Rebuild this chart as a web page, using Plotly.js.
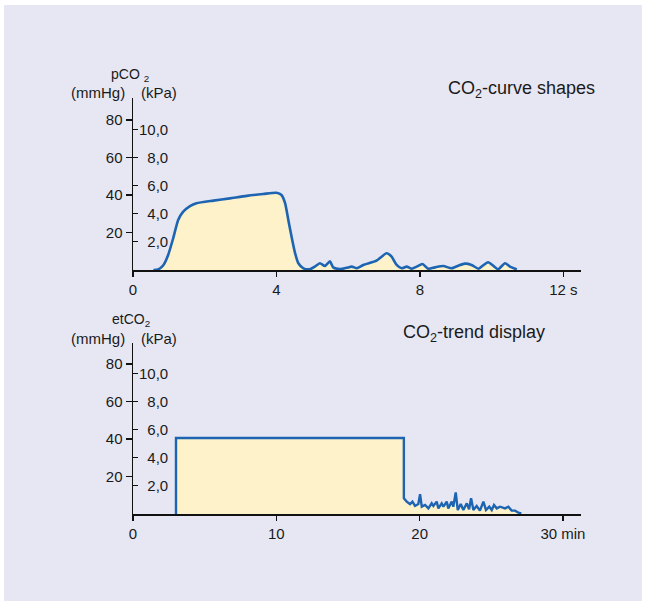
<!DOCTYPE html>
<html>
<head>
<meta charset="utf-8">
<script src="https://cdn.plot.ly/plotly-3.0.1.min.js"></script>
<style>html,body{margin:0;padding:0;background:#fff;}#chart{width:645px;height:604px;}</style>
</head>
<body>
<div id="chart"></div>
<script>
// Top panel: CO2 curve shape (time in s, pCO2 in mmHg)
const curveTime = [0.57,0.70,0.85,0.98,1.12,1.26,1.40,1.59,1.77,2.24,2.70,3.17,3.63,4.00,4.14,4.24,4.33,4.42,4.52,4.61,4.75,4.93,5.07,5.21,5.35,5.49,5.58,5.77,5.96,6.10,6.24,6.42,6.79,6.93,7.07,7.21,7.35,7.49,7.63,7.77,7.91,8.07,8.23,8.42,8.65,8.88,9.07,9.25,9.44,9.63,9.78,9.90,10.04,10.18,10.37,10.51,10.70];
const curvePCO2 = [0,0.3,2.7,8.0,16.9,26.7,31.1,34.1,35.6,37.0,38.2,39.5,40.5,41.2,40.0,35.6,26.7,17.8,8.9,3.6,0.9,0.4,1.8,3.6,2.2,4.6,1.4,0.5,1.2,1.8,0.9,2.7,5.0,7.1,8.9,7.1,2.7,0.9,1.8,0.7,1.8,3.2,0.7,1.4,2.1,0.9,2.3,3.4,2.7,0.7,2.7,4.1,2.3,0.4,3.6,1.8,0.3];

// Bottom panel: etCO2 trend (time in min, etCO2 in mmHg)
const trendTime = [3.0,3.0,18.9,18.9,19.1,19.33,19.5,19.68,19.91,20.03,20.15,20.38,20.61,20.84,20.96,21.19,21.31,21.54,21.66,21.89,22.0,22.24,22.35,22.52,22.66,22.87,23.05,23.29,23.45,23.59,23.75,23.98,24.21,24.45,24.63,24.86,25.03,25.19,25.38,25.61,25.96,26.19,26.42,26.66,26.89,27.1];
const trendCO2 = [0,40.5,40.5,8.4,6.6,5.3,6.6,4.3,5.3,10.6,3.9,4.8,3.0,5.7,4.3,6.6,3.0,5.7,3.9,6.6,3.0,6.6,3.9,11.5,2.1,5.3,2.1,5.7,2.5,8.4,2.1,4.3,1.8,6.6,2.1,3.9,2.1,4.8,3.0,3.9,3.0,3.9,1.8,1.8,0.7,0.3];

// Axis ticks
const mmHgTicks = [20,40,60,80];
const kPaTickVals = [15,30,45,60,75];
const kPaTickText = ['\u20072,0','\u20074,0','\u20076,0','\u20078,0','10,0'];
const secTickVals = [0,4,8,12];
const secTickText = ['0','4','8','12 s'];
const minTickVals = [0,10,20,30];
const minTickText = ['0','10','20','30 min'];

const lineBlue = '#1d64b2';
const cream = '#fdf2c9';
const lavender = '#e7e7f3';
const font = 'Liberation Sans, Arial, Helvetica, sans-serif';

const traces = [
  {x: curveTime, y: curvePCO2, xaxis:'x', yaxis:'y', type:'scatter', mode:'lines',
   line:{color:lineBlue, width:2.6, shape:'spline', smoothing:0.6}, fill:'tozeroy', fillcolor:cream, hoverinfo:'skip'},
  {x: trendTime, y: trendCO2, xaxis:'x2', yaxis:'y2', type:'scatter', mode:'lines',
   line:{color:lineBlue, width:2.4}, fill:'tozeroy', fillcolor:cream, hoverinfo:'skip'},
  // invisible companions so the kPa scales (overlaid axes) get drawn
  {x: curveTime, y: curvePCO2, xaxis:'x3', yaxis:'y3', type:'scatter', mode:'lines',
   line:{width:0, color:'rgba(0,0,0,0)'}, opacity:0, hoverinfo:'skip'},
  {x: trendTime, y: trendCO2, xaxis:'x4', yaxis:'y4', type:'scatter', mode:'lines',
   line:{width:0, color:'rgba(0,0,0,0)'}, opacity:0, hoverinfo:'skip'}
];

const W = 645, H = 604;
const px = v => v / W;
const py = v => (H - v) / H;

const tickFont = {family: font, size: 15, color: '#1a1a1a'};
const xCommon = {showline:true, linecolor:'#111', linewidth:1.5, showgrid:false, zeroline:false,
  ticks:'outside', ticklen:5, tickwidth:1.2, tickcolor:'#111', tickfont:tickFont, fixedrange:true};
const yCommon = {showline:true, linecolor:'#111', linewidth:1.5, showgrid:false, zeroline:false,
  ticks:'outside', ticklen:6, tickwidth:1.2, tickcolor:'#111', tickfont:tickFont, fixedrange:true,
  tickvals: mmHgTicks, ticktext: mmHgTicks.map(String)};
const kPaCommon = {showline:false, showgrid:false, zeroline:false, side:'left',
  ticks:'inside', ticklen:5, tickwidth:1.2, tickcolor:'#111', tickfont:tickFont,
  ticklabelposition:'inside', ticklabelstandoff:1, tickvals:kPaTickVals, ticktext:kPaTickText, fixedrange:true};
const xHidden = {showline:false, showgrid:false, zeroline:false, showticklabels:false, ticks:'', fixedrange:true};

const smallFont = {family:font, size:15, color:'#1a1a1a'};
const titleFont = {family:font, size:18, color:'#1a1a1a'};

const layout = {
  width: W, height: H,
  margin: {l:0, r:0, t:0, b:0},
  paper_bgcolor: '#ffffff',
  plot_bgcolor: 'rgba(0,0,0,0)',
  showlegend: false,
  font: {family: font, color:'#1a1a1a'},
  xaxis: Object.assign({}, xCommon, {domain:[px(133), px(581)], range:[0, 12.49], anchor:'y',
    tickvals: secTickVals, ticktext: secTickText}),
  yaxis: Object.assign({}, yCommon, {domain:[py(270), py(98)], range:[0, 91.7], anchor:'x'}),
  xaxis3: Object.assign({}, xHidden, {overlaying:'x', anchor:'y3', range:[0, 12.49]}),
  yaxis3: Object.assign({}, kPaCommon, {overlaying:'y', anchor:'x3', range:[0, 91.7]}),
  xaxis2: Object.assign({}, xCommon, {domain:[px(133), px(581)], range:[0, 31.26], anchor:'y2',
    tickvals: minTickVals, ticktext: minTickText}),
  yaxis2: Object.assign({}, yCommon, {domain:[py(514), py(343)], range:[0, 91.2], anchor:'x2'}),
  xaxis4: Object.assign({}, xHidden, {overlaying:'x2', anchor:'y4', range:[0, 31.26]}),
  yaxis4: Object.assign({}, kPaCommon, {overlaying:'y2', anchor:'x4', range:[0, 91.2]}),
  shapes: [
    {type:'rect', xref:'paper', yref:'paper', x0:px(4), x1:px(642), y0:py(601), y1:py(5),
     fillcolor:lavender, line:{width:0}, layer:'below'}
  ],
  annotations: [
    {text:'pCO <sub>2</sub>', x:px(130), y:py(75), xref:'paper', yref:'paper', showarrow:false, xanchor:'center', yanchor:'middle', font:{family:font, size:14, color:'#1a1a1a'}},
    {text:'(mmHg)', x:px(98), y:py(93), xref:'paper', yref:'paper', showarrow:false, xanchor:'center', yanchor:'middle', font:smallFont},
    {text:'(kPa)', x:px(159), y:py(93), xref:'paper', yref:'paper', showarrow:false, xanchor:'center', yanchor:'middle', font:smallFont},
    {text:'CO<sub>2</sub>-curve shapes', x:px(446), y:py(90), xref:'paper', yref:'paper', showarrow:false, xanchor:'left', yanchor:'middle', font:titleFont},
    {text:'etCO<sub>2</sub>', x:px(131), y:py(320), xref:'paper', yref:'paper', showarrow:false, xanchor:'center', yanchor:'middle', font:{family:font, size:14, color:'#1a1a1a'}},
    {text:'(mmHg)', x:px(98), y:py(338), xref:'paper', yref:'paper', showarrow:false, xanchor:'center', yanchor:'middle', font:smallFont},
    {text:'(kPa)', x:px(159), y:py(338), xref:'paper', yref:'paper', showarrow:false, xanchor:'center', yanchor:'middle', font:smallFont},
    {text:'CO<sub>2</sub>-trend display', x:px(401), y:py(333), xref:'paper', yref:'paper', showarrow:false, xanchor:'left', yanchor:'middle', font:titleFont}
  ]
};

Plotly.newPlot('chart', traces, layout, {displayModeBar:false, staticPlot:true});
</script>
</body>
</html>
